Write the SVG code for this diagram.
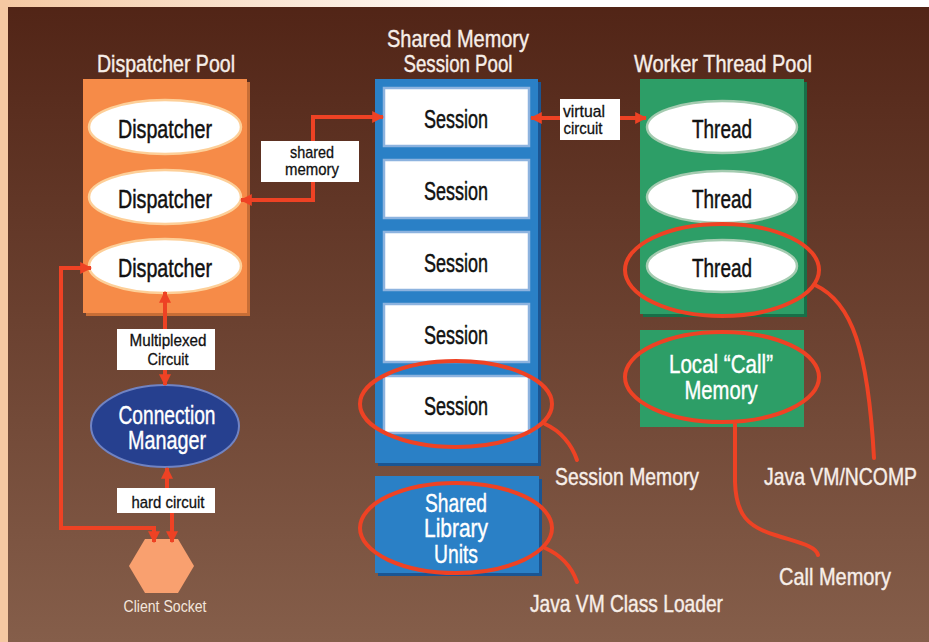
<svg xmlns="http://www.w3.org/2000/svg" width="929" height="642" viewBox="0 0 929 642">
  <defs>
    <linearGradient id="bg" x1="0" y1="0" x2="0" y2="1">
      <stop offset="0" stop-color="#512416"/>
      <stop offset="1" stop-color="#855E4A"/>
    </linearGradient>
    <linearGradient id="topStrip" x1="0" y1="0" x2="1" y2="0">
      <stop offset="0" stop-color="#F5C8A2"/>
      <stop offset="0.55" stop-color="#FFFFFF"/>
      <stop offset="1" stop-color="#FFFFFF"/>
    </linearGradient>
    <marker id="arrow" viewBox="0 0 10 10" refX="9" refY="5" markerWidth="12" markerHeight="12" markerUnits="userSpaceOnUse" orient="auto-start-reverse">
      <path d="M0,0 L10,5 L0,10 Z" fill="#EE4224"/>
    </marker>
    <style>
      text { font-family: "Liberation Sans Narrow", "Liberation Sans", "DejaVu Sans Condensed", sans-serif; }
      .title { font-size: 24px; fill: #F7EEE8; stroke: #F7EEE8; stroke-width: 0.4; text-anchor: middle; }
      .callout { font-size: 24px; fill: #F7EEE8; stroke: #F7EEE8; stroke-width: 0.4; }
      .node { font-size: 26px; fill: #111111; stroke: #111111; stroke-width: 0.5; text-anchor: middle; }
      .nodeW { font-size: 26px; fill: #FFFFFF; stroke: #FFFFFF; stroke-width: 0.4; text-anchor: middle; }
      .small { font-size: 17px; fill: #111111; stroke: #111111; stroke-width: 0.3; text-anchor: middle; }
      .sock { font-size: 17px; fill: #F3E6DC; text-anchor: middle; }
      .labelbox { fill: #FFFFFF; }
      .dispEll { fill: #FFFFFF; stroke: #FDCF98; stroke-width: 2.5; }
      .threadEll { fill: #FFFFFF; stroke: #A4CBB0; stroke-width: 2.5; }
      .sessBox { fill: #FFFFFF; stroke: #8DB3DF; stroke-width: 2.5; }
      .conn { fill: none; stroke: #EE4224; stroke-width: 4; }
      .ring { fill: none; stroke: #EE4224; stroke-width: 4; }
      .lead { fill: none; stroke: #EE4224; stroke-width: 4; stroke-linecap: round; }
    </style>
  </defs>

  <!-- backdrop with peach edges -->
  <rect x="0" y="0" width="929" height="642" fill="url(#bg)"/>
  <rect x="0" y="0" width="929" height="7" fill="url(#topStrip)"/>
  <rect x="0" y="0" width="8" height="642" fill="#F5C8A2"/>

  <!-- column titles -->
  <text class="title" x="166" y="72" textLength="138" lengthAdjust="spacingAndGlyphs">Dispatcher Pool</text>
  <text class="title" x="458" y="47" textLength="142" lengthAdjust="spacingAndGlyphs">Shared Memory</text>
  <text class="title" x="458" y="72" textLength="109" lengthAdjust="spacingAndGlyphs">Session Pool</text>
  <text class="title" x="723" y="72" textLength="178" lengthAdjust="spacingAndGlyphs">Worker Thread Pool</text>

  <!-- dispatcher pool -->
  <g id="dispatcher-pool">
    <rect x="86" y="82" width="164" height="234" fill="#C86E36"/>
    <rect x="83" y="79" width="164" height="234" fill="#F68B48"/>
  </g>
  <g id="dispatcher-1">
    <ellipse class="dispEll" cx="165" cy="127" rx="76" ry="27"/>
    <text class="node" x="165" y="138" textLength="94" lengthAdjust="spacingAndGlyphs">Dispatcher</text>
  </g>
  <g id="dispatcher-2">
    <ellipse class="dispEll" cx="165" cy="197" rx="76" ry="27"/>
    <text class="node" x="165" y="208" textLength="94" lengthAdjust="spacingAndGlyphs">Dispatcher</text>
  </g>
  <g id="dispatcher-3">
    <ellipse class="dispEll" cx="165" cy="266" rx="76" ry="27"/>
    <text class="node" x="165" y="277" textLength="94" lengthAdjust="spacingAndGlyphs">Dispatcher</text>
  </g>

  <!-- connection manager -->
  <g id="connection-manager">
    <ellipse cx="165" cy="426" rx="74" ry="41" fill="#26408F" stroke="#7083C3" stroke-width="2"/>
    <text class="nodeW" x="167" y="424" textLength="97" lengthAdjust="spacingAndGlyphs">Connection</text>
    <text class="nodeW" x="167" y="449" textLength="78" lengthAdjust="spacingAndGlyphs">Manager</text>
  </g>

  <!-- client socket -->
  <g id="client-socket">
    <polygon points="129,566 145,539 178,539 194,566 178,593 145,593" fill="#F9A06F"/>
    <text class="sock" x="165" y="612" textLength="83" lengthAdjust="spacingAndGlyphs">Client Socket</text>
  </g>

  <!-- shared memory session pool -->
  <g id="session-pool">
    <rect x="378" y="82" width="163" height="384" fill="#1B5592"/>
    <rect x="375" y="79" width="163" height="384" fill="#2A80C6"/>
  </g>
  <g id="session-1">
    <rect class="sessBox" x="384" y="88" width="145" height="58"/>
    <text class="node" x="456" y="128" textLength="64" lengthAdjust="spacingAndGlyphs">Session</text>
  </g>
  <g id="session-2">
    <rect class="sessBox" x="384" y="160" width="145" height="58"/>
    <text class="node" x="456" y="200" textLength="64" lengthAdjust="spacingAndGlyphs">Session</text>
  </g>
  <g id="session-3">
    <rect class="sessBox" x="384" y="232" width="145" height="58"/>
    <text class="node" x="456" y="272" textLength="64" lengthAdjust="spacingAndGlyphs">Session</text>
  </g>
  <g id="session-4">
    <rect class="sessBox" x="384" y="304" width="145" height="58"/>
    <text class="node" x="456" y="344" textLength="64" lengthAdjust="spacingAndGlyphs">Session</text>
  </g>
  <g id="session-5">
    <rect class="sessBox" x="384" y="376" width="145" height="57"/>
    <text class="node" x="456" y="415" textLength="64" lengthAdjust="spacingAndGlyphs">Session</text>
  </g>

  <!-- shared library units -->
  <g id="shared-library">
    <rect x="378" y="479" width="164" height="97" fill="#1B5592"/>
    <rect x="375" y="476" width="164" height="97" fill="#2A80C6"/>
    <text class="nodeW" x="456" y="512" textLength="62" lengthAdjust="spacingAndGlyphs">Shared</text>
    <text class="nodeW" x="456" y="537" textLength="64" lengthAdjust="spacingAndGlyphs">Library</text>
    <text class="nodeW" x="456" y="563" textLength="44" lengthAdjust="spacingAndGlyphs">Units</text>
  </g>

  <!-- worker thread pool -->
  <g id="worker-pool">
    <rect x="643" y="82" width="164" height="235" fill="#186F48"/>
    <rect x="640" y="79" width="164" height="235" fill="#2D9E67"/>
  </g>
  <g id="thread-1">
    <ellipse class="threadEll" cx="722" cy="127" rx="75" ry="26"/>
    <text class="node" x="722" y="138" textLength="60" lengthAdjust="spacingAndGlyphs">Thread</text>
  </g>
  <g id="thread-2">
    <ellipse class="threadEll" cx="722" cy="197" rx="75" ry="26"/>
    <text class="node" x="722" y="208" textLength="60" lengthAdjust="spacingAndGlyphs">Thread</text>
  </g>
  <g id="thread-3">
    <ellipse class="threadEll" cx="722" cy="266" rx="75" ry="26"/>
    <text class="node" x="722" y="277" textLength="60" lengthAdjust="spacingAndGlyphs">Thread</text>
  </g>

  <!-- local call memory -->
  <g id="local-call-memory">
    <rect x="640" y="330" width="164" height="97" fill="#2D9E67"/>
    <text class="nodeW" x="721" y="373" textLength="104" lengthAdjust="spacingAndGlyphs">Local “Call”</text>
    <text class="nodeW" x="721" y="399" textLength="73" lengthAdjust="spacingAndGlyphs">Memory</text>
  </g>

  <!-- connectors -->
  <g id="connectors">
    <path class="conn" d="M165,385 V292" marker-start="url(#arrow)" marker-end="url(#arrow)"/>
    <path class="conn" d="M167,468 V500 H172 V542" marker-start="url(#arrow)" marker-end="url(#arrow)"/>
    <path class="conn" d="M91,268 H61 V528 H154 V542" marker-start="url(#arrow)" marker-end="url(#arrow)"/>
    <path class="conn" d="M241,200 H313 V117 H383" marker-start="url(#arrow)" marker-end="url(#arrow)"/>
    <path class="conn" d="M531,118 H646" marker-start="url(#arrow)" marker-end="url(#arrow)"/>

    <rect class="labelbox" x="261" y="141" width="98" height="41"/>
    <text class="small" x="312" y="158" textLength="44" lengthAdjust="spacingAndGlyphs">shared</text>
    <text class="small" x="312" y="175" textLength="54" lengthAdjust="spacingAndGlyphs">memory</text>

    <rect class="labelbox" x="560" y="99" width="60" height="41"/>
    <text class="small" x="584" y="117" textLength="42" lengthAdjust="spacingAndGlyphs">virtual</text>
    <text class="small" x="583" y="134" textLength="39" lengthAdjust="spacingAndGlyphs">circuit</text>

    <rect class="labelbox" x="117" y="329" width="98" height="41"/>
    <text class="small" x="168" y="346" textLength="77" lengthAdjust="spacingAndGlyphs">Multiplexed</text>
    <text class="small" x="168" y="365" textLength="41" lengthAdjust="spacingAndGlyphs">Circuit</text>

    <rect class="labelbox" x="117" y="488" width="98" height="25"/>
    <text class="small" x="168" y="508" textLength="73" lengthAdjust="spacingAndGlyphs">hard circuit</text>
  </g>

  <!-- memory callouts -->
  <g id="callouts">
    <ellipse class="ring" cx="456" cy="404" rx="96" ry="43"/>
    <ellipse class="ring" cx="456" cy="528" rx="96" ry="45"/>
    <ellipse class="ring" cx="722" cy="270" rx="97" ry="46"/>
    <ellipse class="ring" cx="722" cy="377" rx="97" ry="45"/>

    <path class="lead" d="M545,424 C561,431 572,445 577,460"/>
    <path class="lead" d="M545,548 C561,555 572,568 577,582"/>
    <path class="lead" d="M815,285 C852,302 868,350 874,458"/>
    <path class="lead" d="M735,424 V482 C736,515 748,527 775,535 C800,543 816,546 818,555"/>

    <text class="callout" x="555" y="485" textLength="144" lengthAdjust="spacingAndGlyphs">Session Memory</text>
    <text class="callout" x="530" y="612" textLength="193" lengthAdjust="spacingAndGlyphs">Java VM Class Loader</text>
    <text class="callout" x="917" y="485" text-anchor="end" textLength="153" lengthAdjust="spacingAndGlyphs">Java VM/NCOMP</text>
    <text class="callout" x="779" y="585" textLength="112" lengthAdjust="spacingAndGlyphs">Call Memory</text>
  </g>
</svg>
